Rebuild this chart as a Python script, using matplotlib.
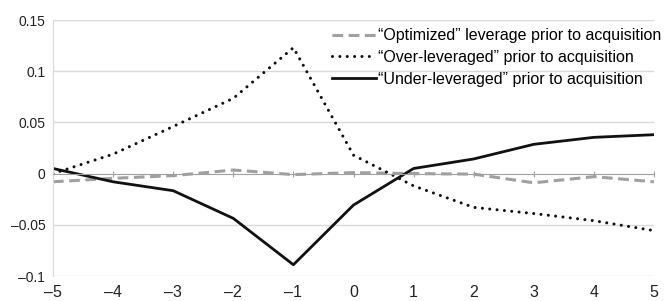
import numpy as np
import matplotlib.pyplot as plt

plt.rcParams['font.family'] = ['Liberation Sans', 'DejaVu Sans']

years = [-5, -4, -3, -2, -1, 0, 1, 2, 3, 4, 5]
optimized = [-0.008, -0.0046, -0.002, 0.0035, -0.001, 0.001, 0.0, -0.0005, -0.009, -0.003, -0.008]
over_lev = [0.0, 0.019, 0.046, 0.0735, 0.123, 0.018, -0.012, -0.033, -0.039, -0.046, -0.0557]
under_lev = [0.005, -0.008, -0.0167, -0.0437, -0.089, -0.0307, 0.005, 0.0143, 0.0286, 0.0354, 0.038]

yticks = [-0.1, -0.05, 0, 0.05, 0.1, 0.15]
ylabels = ['\u20130.1', '\u20130.05', '0', '0.05', '0.1', '0.15']
xlabels = [('\u2013%d' % -v) if v < 0 else str(v) for v in years]

fig = plt.figure(figsize=(6.69, 3.01), dpi=100)
ax = fig.add_axes([53/669, 1 - 276/301, 601/669, 256/301])

for y in yticks:
    if y != 0:
        ax.axhline(y, color='#d9d9d9', lw=1, zorder=0)

ax.plot(years, optimized, color='#a0a0a0', lw=2.2, ls=(0, (3.5, 1.8)),
        label='\u201cOptimized\u201d leverage prior to acquisition')
ax.plot(years, over_lev, color='#111111', lw=2.2, ls=(0, (0.01, 2.4)), dash_capstyle='round',
        label='\u201cOver-leveraged\u201d prior to acquisition')
ax.plot(years, under_lev, color='#111111', lw=2.0,
        label='\u201cUnder-leveraged\u201d prior to acquisition')

ax.set_xlim(-5, 5)
ax.set_ylim(-0.1, 0.15)
ax.set_yticks(yticks)
ax.set_yticklabels(ylabels)
ax.tick_params(axis='y', length=0, pad=5.5, labelsize=10, labelcolor='#222222')

for s in ['top', 'right']:
    ax.spines[s].set_visible(False)
ax.spines['left'].set_color('#d9d9d9')
ax.spines['bottom'].set_position(('data', 0))
ax.spines['bottom'].set_color('#a0a0a0')
ax.set_xticks(years)
ax.tick_params(axis='x', direction='inout', length=5, color='#a0a0a0', labelbottom=False)

sec = ax.secondary_xaxis(0.0)
sec.set_xticks(years)
sec.set_xticklabels(xlabels)
sec.spines['bottom'].set_visible(False)
sec.tick_params(axis='x', length=0, pad=6.5, labelsize=11.5, labelcolor='#222222')

ax.legend(loc='upper left', bbox_to_anchor=(0.453, 0.993), frameon=False, fontsize=11.5,
          handlelength=2.75, handletextpad=0.15, labelspacing=0.43, borderaxespad=0)

fig.savefig('out.png', dpi=100)
